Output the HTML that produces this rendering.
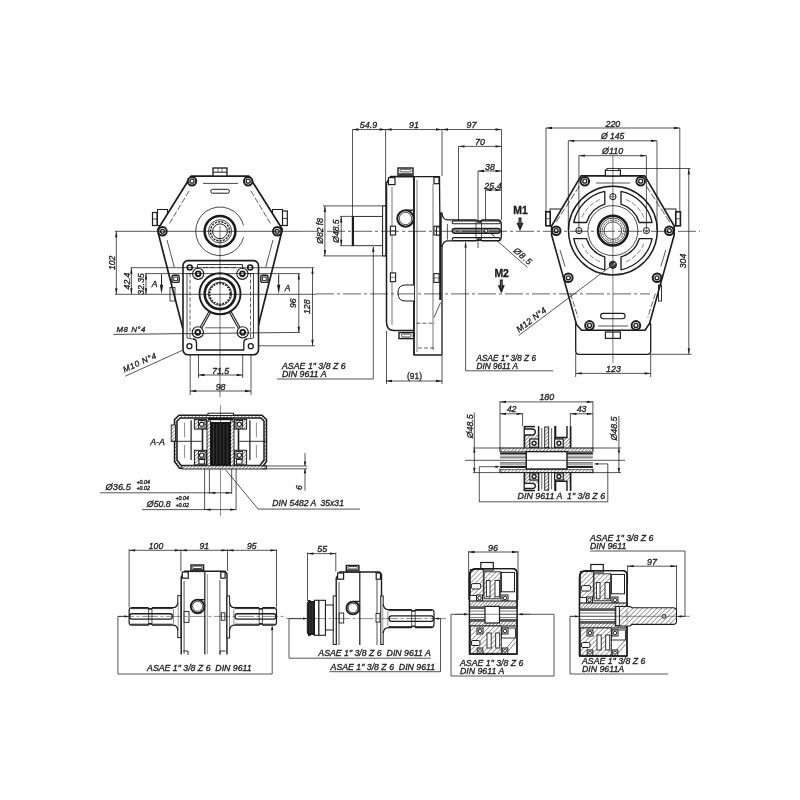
<!DOCTYPE html>
<html><head><meta charset="utf-8"><style>
html,body{margin:0;padding:0;background:#fff;}
svg{display:block;}
text{font-family:"Liberation Sans",sans-serif;fill:#1c1c1c;stroke:#1c1c1c;stroke-width:0.32px;white-space:pre;}
svg{will-change:transform;}
</style></head><body>
<svg width="800" height="800" viewBox="0 0 800 800">
<defs><pattern id="hatch" patternUnits="userSpaceOnUse" width="2.5" height="2.5" patternTransform="rotate(45)"><rect width="2.5" height="2.5" fill="#fff"/><line x1="0" y1="0" x2="0" y2="2.5" stroke="#2a2a2a" stroke-width="1.0"/></pattern><pattern id="hatch2" patternUnits="userSpaceOnUse" width="3.4" height="3.4" patternTransform="rotate(45)"><rect width="3.4" height="3.4" fill="#fff"/><line x1="0" y1="0" x2="0" y2="3.4" stroke="#2a2a2a" stroke-width="0.85"/></pattern></defs>
<rect width="800" height="800" fill="#fff"/>
<rect x="157.5" y="209.5" width="10" height="16" rx="0" fill="none" stroke="#1c1c1c" stroke-width="1.0"/>
<rect x="152.5" y="212.5" width="4.5" height="13" rx="0" fill="none" stroke="#1c1c1c" stroke-width="1.2"/>
<line x1="152.5" y1="219" x2="157" y2="219" stroke="#1c1c1c" stroke-width="0.8"/>
<rect x="272.5" y="209.5" width="10" height="16" rx="0" fill="none" stroke="#1c1c1c" stroke-width="1.0"/>
<rect x="282.5" y="211" width="4.8" height="14.5" rx="0" fill="none" stroke="#1c1c1c" stroke-width="1.2"/>
<line x1="282.5" y1="218.5" x2="287.3" y2="218.5" stroke="#1c1c1c" stroke-width="0.8"/>
<polygon points="191,176.2 249,176.2 282.2,229 281.5,233 257.7,328 182.7,328 158.2,233 158,229" fill="#fff" stroke="#1c1c1c" stroke-width="1.7" stroke-linejoin="round"/>
<rect x="213" y="168" width="14" height="8" rx="0" fill="#fff" stroke="#1c1c1c" stroke-width="1.3"/>
<line x1="213" y1="172.2" x2="227" y2="172.2" stroke="#1c1c1c" stroke-width="1.0"/>
<line x1="218" y1="168" x2="218" y2="172.2" stroke="#1c1c1c" stroke-width="0.6"/>
<line x1="222" y1="168" x2="222" y2="172.2" stroke="#1c1c1c" stroke-width="0.6"/>
<line x1="203" y1="183.4" x2="238" y2="183.4" stroke="#1c1c1c" stroke-width="0.8"/>
<rect x="210.8" y="189.3" width="18.6" height="3.9" rx="1.9" fill="none" stroke="#1c1c1c" stroke-width="1.0"/>
<line x1="189" y1="191" x2="169.5" y2="223.5" stroke="#1c1c1c" stroke-width="0.7" stroke-dasharray="6 2"/>
<line x1="251" y1="191" x2="270.5" y2="223.5" stroke="#1c1c1c" stroke-width="0.7" stroke-dasharray="6 2"/>
<line x1="167" y1="240" x2="174.4" y2="267.5" stroke="#1c1c1c" stroke-width="0.75"/>
<line x1="273" y1="240" x2="265.6" y2="267.5" stroke="#1c1c1c" stroke-width="0.75"/>
<path d="M243.58,237.18 A24.3,24.3 0 1 1 243.58,225.42" fill="none" stroke="#1c1c1c" stroke-width="0.8" stroke-linejoin="round" />
<circle cx="220" cy="231.3" r="15.4" fill="none" stroke="#1c1c1c" stroke-width="2.5"/>
<circle cx="220" cy="231.3" r="11.6" fill="none" stroke="#1c1c1c" stroke-width="0.8"/>
<circle cx="220" cy="231.3" r="9.6" fill="none" stroke="#1c1c1c" stroke-width="1.4" stroke-dasharray="2.2 1.1"/>
<circle cx="220" cy="231.3" r="7.4" fill="none" stroke="#1c1c1c" stroke-width="1.0"/>
<circle cx="192" cy="181.2" r="4.2" fill="#fff" stroke="#1c1c1c" stroke-width="2.0"/>
<circle cx="192" cy="181.2" r="2" fill="none" stroke="#1c1c1c" stroke-width="1.3"/>
<circle cx="248.2" cy="181.2" r="4.2" fill="#fff" stroke="#1c1c1c" stroke-width="2.0"/>
<circle cx="248.2" cy="181.2" r="2" fill="none" stroke="#1c1c1c" stroke-width="1.3"/>
<circle cx="162.5" cy="231.3" r="4.2" fill="#fff" stroke="#1c1c1c" stroke-width="2.0"/>
<circle cx="162.5" cy="231.3" r="2" fill="none" stroke="#1c1c1c" stroke-width="1.3"/>
<circle cx="277.2" cy="231.3" r="4.2" fill="#fff" stroke="#1c1c1c" stroke-width="2.0"/>
<circle cx="277.2" cy="231.3" r="2" fill="none" stroke="#1c1c1c" stroke-width="1.3"/>
<rect x="183" y="260.6" width="75.5" height="94.2" rx="5" fill="#fff" stroke="#1c1c1c" stroke-width="1.6"/>
<line x1="187" y1="273.5" x2="187" y2="338" stroke="#1c1c1c" stroke-width="0.8"/>
<line x1="190" y1="273.5" x2="190" y2="338" stroke="#1c1c1c" stroke-width="0.7" stroke-dasharray="4 2"/>
<line x1="253.5" y1="273.5" x2="253.5" y2="338" stroke="#1c1c1c" stroke-width="0.8"/>
<line x1="250.5" y1="273.5" x2="250.5" y2="338" stroke="#1c1c1c" stroke-width="0.7" stroke-dasharray="4 2"/>
<line x1="187" y1="273.5" x2="193" y2="273.5" stroke="#1c1c1c" stroke-width="0.8"/>
<line x1="247" y1="273.5" x2="253.5" y2="273.5" stroke="#1c1c1c" stroke-width="0.8"/>
<path d="M197.5,269 L197.5,264.5 L242.5,264.5 L242.5,269" fill="none" stroke="#1c1c1c" stroke-width="0.9" stroke-linejoin="round" />
<line x1="203" y1="267.5" x2="237" y2="267.5" stroke="#1c1c1c" stroke-width="0.7" stroke-dasharray="5 2"/>
<circle cx="198.2" cy="273.8" r="5.6" fill="#fff" stroke="#1c1c1c" stroke-width="1.1"/>
<circle cx="198.2" cy="273.8" r="2.4" fill="none" stroke="#1c1c1c" stroke-width="1.9"/>
<circle cx="242.4" cy="273.8" r="5.6" fill="#fff" stroke="#1c1c1c" stroke-width="1.1"/>
<circle cx="242.4" cy="273.8" r="2.4" fill="none" stroke="#1c1c1c" stroke-width="1.9"/>
<circle cx="189.7" cy="267.5" r="2.5" fill="none" stroke="#1c1c1c" stroke-width="1.6"/>
<circle cx="250.2" cy="267.5" r="2.5" fill="none" stroke="#1c1c1c" stroke-width="1.6"/>
<rect x="172" y="275.2" width="7.2" height="7.2" rx="1.5" fill="#fff" stroke="#1c1c1c" stroke-width="1.4"/>
<rect x="173.8" y="277" width="3.6" height="3.6" rx="0" fill="none" stroke="#1c1c1c" stroke-width="0.9"/>
<rect x="260.8" y="275.2" width="7.2" height="7.2" rx="1.5" fill="#fff" stroke="#1c1c1c" stroke-width="1.4"/>
<rect x="262.6" y="277" width="3.6" height="3.6" rx="0" fill="none" stroke="#1c1c1c" stroke-width="0.9"/>
<rect x="170" y="287.5" width="5" height="13.5" rx="0" fill="none" stroke="#1c1c1c" stroke-width="0.8"/>
<circle cx="220" cy="293.8" r="20.5" fill="#fff" stroke="#1c1c1c" stroke-width="1.9"/>
<circle cx="220" cy="293.8" r="15.3" fill="none" stroke="#1c1c1c" stroke-width="2.6"/>
<circle cx="220" cy="293.8" r="11.6" fill="none" stroke="#1c1c1c" stroke-width="0.9"/>
<circle cx="220" cy="293.8" r="10.4" fill="none" stroke="#1c1c1c" stroke-width="1.6" stroke-dasharray="1.8 1.2"/>
<line x1="208.8" y1="311.8" x2="200" y2="327.5" stroke="#1c1c1c" stroke-width="1.1"/>
<line x1="210.4" y1="312.8" x2="201.6" y2="328.5" stroke="#1c1c1c" stroke-width="1.1"/>
<line x1="231.2" y1="311.8" x2="240" y2="327.5" stroke="#1c1c1c" stroke-width="1.1"/>
<line x1="229.6" y1="312.8" x2="238.4" y2="328.5" stroke="#1c1c1c" stroke-width="1.1"/>
<circle cx="197.8" cy="332.3" r="5.6" fill="#fff" stroke="#1c1c1c" stroke-width="1.1"/>
<circle cx="197.8" cy="332.3" r="2.4" fill="none" stroke="#1c1c1c" stroke-width="1.9"/>
<circle cx="242.7" cy="332.3" r="5.6" fill="#fff" stroke="#1c1c1c" stroke-width="1.1"/>
<circle cx="242.7" cy="332.3" r="2.4" fill="none" stroke="#1c1c1c" stroke-width="1.9"/>
<circle cx="189.4" cy="346.2" r="2.5" fill="none" stroke="#1c1c1c" stroke-width="1.3"/>
<circle cx="250.8" cy="346.2" r="2.5" fill="none" stroke="#1c1c1c" stroke-width="1.3"/>
<line x1="205" y1="327.8" x2="235" y2="327.8" stroke="#1c1c1c" stroke-width="0.7"/>
<path d="M193,339 Q196.5,339 196.5,343 L196.5,350 L243.8,350 L243.8,343 Q243.8,339 247.5,339" fill="none" stroke="#1c1c1c" stroke-width="1.3" stroke-linejoin="round" />
<line x1="187" y1="338" x2="193" y2="339" stroke="#1c1c1c" stroke-width="0.8"/>
<line x1="253.5" y1="338" x2="247.5" y2="339" stroke="#1c1c1c" stroke-width="0.8"/>
<line x1="115" y1="294.3" x2="316" y2="294.3" stroke="#1c1c1c" stroke-width="0.75"/>
<line x1="130.5" y1="267.7" x2="314" y2="267.7" stroke="#1c1c1c" stroke-width="0.75"/>
<line x1="145" y1="273.6" x2="300" y2="273.6" stroke="#1c1c1c" stroke-width="0.75"/>
<line x1="113.5" y1="334.4" x2="300" y2="332.4" stroke="#1c1c1c" stroke-width="0.8"/>
<line x1="258" y1="345.8" x2="315" y2="345.8" stroke="#1c1c1c" stroke-width="0.75"/>
<line x1="116.3" y1="231.3" x2="116.3" y2="294.3" stroke="#1c1c1c" stroke-width="0.75"/>
<polygon points="116.3,231.3 117.45,237.3 115.15,237.3" fill="#1c1c1c"/>
<polygon points="116.3,294.3 115.15,288.3 117.45,288.3" fill="#1c1c1c"/>
<text x="115.1" y="262.8" font-size="8.6" text-anchor="middle" font-style="italic" font-weight="normal" transform="rotate(-90 115.1 262.8)">102</text>
<line x1="131.4" y1="267.7" x2="131.4" y2="294.3" stroke="#1c1c1c" stroke-width="0.75"/>
<polygon points="131.4,267.7 132.55,273.7 130.25,273.7" fill="#1c1c1c"/>
<polygon points="131.4,294.3 130.25,288.3 132.55,288.3" fill="#1c1c1c"/>
<text x="129.8" y="281" font-size="8.6" text-anchor="middle" font-style="italic" font-weight="normal" transform="rotate(-90 129.8 281)">42.4</text>
<line x1="146" y1="273.6" x2="146" y2="294.3" stroke="#1c1c1c" stroke-width="0.75"/>
<polygon points="146,273.6 147.15,279.6 144.85,279.6" fill="#1c1c1c"/>
<polygon points="146,294.3 144.85,288.3 147.15,288.3" fill="#1c1c1c"/>
<text x="144" y="283.95" font-size="8.6" text-anchor="middle" font-style="italic" font-weight="normal" transform="rotate(-90 144 283.95)">32.35</text>
<line x1="161.5" y1="274.3" x2="161.5" y2="285" stroke="#1c1c1c" stroke-width="1.0"/>
<polygon points="161.5,294.3 159.9,284.8 163.1,284.8" fill="#1c1c1c"/>
<text x="154.5" y="287.3" font-size="8.5" text-anchor="middle" font-style="italic" font-weight="normal">A</text>
<line x1="278.7" y1="274.3" x2="278.7" y2="285" stroke="#1c1c1c" stroke-width="1.0"/>
<polygon points="278.7,294.3 277.1,284.8 280.3,284.8" fill="#1c1c1c"/>
<text x="287.5" y="291" font-size="8.5" text-anchor="middle" font-style="italic" font-weight="normal">A</text>
<line x1="298.8" y1="273.6" x2="298.8" y2="332.8" stroke="#1c1c1c" stroke-width="0.75"/>
<polygon points="298.8,273.6 299.95,279.6 297.65,279.6" fill="#1c1c1c"/>
<polygon points="298.8,332.8 297.65,326.8 299.95,326.8" fill="#1c1c1c"/>
<text x="296" y="303.2" font-size="8.6" text-anchor="middle" font-style="italic" font-weight="normal" transform="rotate(-90 296 303.2)">96</text>
<line x1="312.5" y1="267.7" x2="312.5" y2="345.8" stroke="#1c1c1c" stroke-width="0.75"/>
<polygon points="312.5,267.7 313.65,273.7 311.35,273.7" fill="#1c1c1c"/>
<polygon points="312.5,345.8 311.35,339.8 313.65,339.8" fill="#1c1c1c"/>
<text x="309.8" y="306.75" font-size="8.6" text-anchor="middle" font-style="italic" font-weight="normal" transform="rotate(-90 309.8 306.75)">128</text>
<line x1="190.2" y1="354.8" x2="190.2" y2="395" stroke="#1c1c1c" stroke-width="0.75"/>
<line x1="198.5" y1="354.8" x2="198.5" y2="378" stroke="#1c1c1c" stroke-width="0.75"/>
<line x1="242.7" y1="354.8" x2="242.7" y2="378" stroke="#1c1c1c" stroke-width="0.75"/>
<line x1="251" y1="354.8" x2="251" y2="395" stroke="#1c1c1c" stroke-width="0.75"/>
<line x1="198.5" y1="375" x2="242.7" y2="375" stroke="#1c1c1c" stroke-width="0.75"/>
<polygon points="198.5,375 204.5,373.85 204.5,376.15" fill="#1c1c1c"/>
<polygon points="242.7,375 236.7,376.15 236.7,373.85" fill="#1c1c1c"/>
<text x="220.6" y="373.5" font-size="8.9" text-anchor="middle" font-style="italic" font-weight="normal">71.5</text>
<line x1="190.2" y1="391" x2="251" y2="391" stroke="#1c1c1c" stroke-width="0.75"/>
<polygon points="190.2,391 196.2,389.85 196.2,392.15" fill="#1c1c1c"/>
<polygon points="251,391 245,392.15 245,389.85" fill="#1c1c1c"/>
<text x="220.6" y="389.5" font-size="8.9" text-anchor="middle" font-style="italic" font-weight="normal">98</text>
<text x="116.5" y="331.5" font-size="7.9" text-anchor="start" font-style="italic" font-weight="normal" letter-spacing="0.5">M8 N°4</text>
<line x1="182.5" y1="350.3" x2="125.2" y2="376.2" stroke="#1c1c1c" stroke-width="0.75"/>
<text x="124.5" y="372.5" font-size="8.2" text-anchor="start" font-style="italic" font-weight="normal" letter-spacing="0.6" transform="rotate(-24.5 124.5 372.5)">M10 N°4</text>
<line x1="352.5" y1="129.5" x2="352.5" y2="245.7" stroke="#1c1c1c" stroke-width="0.75"/>
<line x1="385.6" y1="129.5" x2="385.6" y2="205.9" stroke="#1c1c1c" stroke-width="0.75"/>
<line x1="442" y1="129.5" x2="442" y2="176" stroke="#1c1c1c" stroke-width="0.75"/>
<line x1="501.5" y1="129.5" x2="501.5" y2="220" stroke="#1c1c1c" stroke-width="0.75"/>
<line x1="352.5" y1="129.5" x2="501.5" y2="129.5" stroke="#1c1c1c" stroke-width="0.75"/>
<polygon points="352.5,129.5 358.5,128.35 358.5,130.65" fill="#1c1c1c"/>
<polygon points="385.6,129.5 391.6,128.35 391.6,130.65" fill="#1c1c1c"/>
<polygon points="442,129.5 448,128.35 448,130.65" fill="#1c1c1c"/>
<polygon points="385.6,129.5 379.6,130.65 379.6,128.35" fill="#1c1c1c"/>
<polygon points="442,129.5 436,130.65 436,128.35" fill="#1c1c1c"/>
<polygon points="501.5,129.5 495.5,130.65 495.5,128.35" fill="#1c1c1c"/>
<text x="368.5" y="128" font-size="8.9" text-anchor="middle" font-style="italic" font-weight="normal">54.9</text>
<text x="414" y="128" font-size="8.9" text-anchor="middle" font-style="italic" font-weight="normal">91</text>
<text x="471.5" y="128" font-size="8.9" text-anchor="middle" font-style="italic" font-weight="normal">97</text>
<line x1="458.5" y1="146.4" x2="458.5" y2="220" stroke="#1c1c1c" stroke-width="0.75"/>
<line x1="478" y1="171" x2="478" y2="248" stroke="#1c1c1c" stroke-width="0.75"/>
<line x1="485.5" y1="190" x2="485.5" y2="220" stroke="#1c1c1c" stroke-width="0.75"/>
<line x1="458.5" y1="146.4" x2="501.5" y2="146.4" stroke="#1c1c1c" stroke-width="0.75"/>
<polygon points="458.5,146.4 464.5,145.25 464.5,147.55" fill="#1c1c1c"/>
<polygon points="501.5,146.4 495.5,147.55 495.5,145.25" fill="#1c1c1c"/>
<text x="480" y="144.9" font-size="8.9" text-anchor="middle" font-style="italic" font-weight="normal">70</text>
<line x1="478" y1="171" x2="501.5" y2="171" stroke="#1c1c1c" stroke-width="0.75"/>
<polygon points="478,171 484,169.85 484,172.15" fill="#1c1c1c"/>
<polygon points="501.5,171 495.5,172.15 495.5,169.85" fill="#1c1c1c"/>
<text x="490" y="169.5" font-size="8.9" text-anchor="middle" font-style="italic" font-weight="normal">38</text>
<line x1="485.5" y1="190" x2="501.5" y2="190" stroke="#1c1c1c" stroke-width="0.75"/>
<polygon points="485.5,190 491.5,188.85 491.5,191.15" fill="#1c1c1c"/>
<polygon points="501.5,190 495.5,191.15 495.5,188.85" fill="#1c1c1c"/>
<text x="493" y="189.3" font-size="8.9" text-anchor="middle" font-style="italic" font-weight="normal">25.4</text>
<line x1="323" y1="205.9" x2="386" y2="205.9" stroke="#1c1c1c" stroke-width="0.75"/>
<line x1="323" y1="255.9" x2="386" y2="255.9" stroke="#1c1c1c" stroke-width="0.75"/>
<line x1="324.9" y1="205.9" x2="324.9" y2="255.9" stroke="#1c1c1c" stroke-width="0.75"/>
<polygon points="324.9,205.9 326.05,211.9 323.75,211.9" fill="#1c1c1c"/>
<polygon points="324.9,255.9 323.75,249.9 326.05,249.9" fill="#1c1c1c"/>
<text x="323.3" y="230.9" font-size="8.6" text-anchor="middle" font-style="italic" font-weight="normal" transform="rotate(-90 323.3 230.9)">Ø82 f8</text>
<line x1="340" y1="216.4" x2="353" y2="216.4" stroke="#1c1c1c" stroke-width="0.75"/>
<line x1="340" y1="245.7" x2="353" y2="245.7" stroke="#1c1c1c" stroke-width="0.75"/>
<line x1="341.2" y1="216.4" x2="341.2" y2="245.7" stroke="#1c1c1c" stroke-width="0.75"/>
<polygon points="341.2,216.4 342.35,222.4 340.05,222.4" fill="#1c1c1c"/>
<polygon points="341.2,245.7 340.05,239.7 342.35,239.7" fill="#1c1c1c"/>
<text x="339.1" y="231.05" font-size="8.6" text-anchor="middle" font-style="italic" font-weight="normal" transform="rotate(-90 339.1 231.05)">Ø48.5</text>
<rect x="352.5" y="216.4" width="31" height="29.3" rx="0" fill="#fff" stroke="#1c1c1c" stroke-width="0.9"/>
<line x1="352.9" y1="216.4" x2="352.9" y2="245.7" stroke="#1c1c1c" stroke-width="2.2"/>
<rect x="382.6" y="205.9" width="3.2" height="50" rx="0" fill="#fff" stroke="#1c1c1c" stroke-width="1.0"/>
<path d="M386.5,322 L386.5,183 L390.5,176.6 L414,176.6 L414,330.6 L394,330.6 Q386.5,330.6 386.5,322 Z" fill="#fff" stroke="#1c1c1c" stroke-width="1.5" stroke-linejoin="round" />
<rect x="388.5" y="177.6" width="6.5" height="7" rx="0" fill="#fff" stroke="#1c1c1c" stroke-width="1.2"/>
<line x1="392" y1="187" x2="392" y2="325" stroke="#1c1c1c" stroke-width="0.6"/>
<path d="M414,176.6 L439.5,176.6 L439.8,213 L442,213 L442,355 L414,355 Z" fill="#fff" stroke="#1c1c1c" stroke-width="1.3" stroke-linejoin="round" />
<line x1="440.2" y1="213" x2="440.2" y2="300" stroke="#1c1c1c" stroke-width="2.0"/>
<line x1="433" y1="184" x2="433" y2="350" stroke="#1c1c1c" stroke-width="0.6"/>
<line x1="417" y1="180" x2="417" y2="352" stroke="#1c1c1c" stroke-width="0.6"/>
<line x1="414" y1="176.6" x2="414" y2="355" stroke="#1c1c1c" stroke-width="1.5"/>
<rect x="434" y="177.2" width="5" height="6.5" rx="0" fill="#fff" stroke="#1c1c1c" stroke-width="1.2"/>
<rect x="398" y="168" width="15" height="8.6" rx="0" fill="#fff" stroke="#1c1c1c" stroke-width="1.4"/>
<rect x="400" y="169.3" width="11" height="2.6" rx="1.2" fill="none" stroke="#1c1c1c" stroke-width="0.8"/>
<rect x="398.5" y="173.2" width="14" height="3" fill="#3a3a3a"/>
<line x1="405.5" y1="210.2" x2="413.5" y2="210.2" stroke="#1c1c1c" stroke-width="1.4"/>
<circle cx="405.5" cy="218.5" r="8.2" fill="#fff" stroke="#1c1c1c" stroke-width="2.0"/>
<circle cx="405.5" cy="218.5" r="6.2" fill="none" stroke="#1c1c1c" stroke-width="0.8"/>
<rect x="390.4" y="226.2" width="5.2" height="8.8" rx="0" fill="#fff" stroke="#1c1c1c" stroke-width="1.1"/>
<line x1="390.4" y1="230.6" x2="395.6" y2="230.6" stroke="#1c1c1c" stroke-width="0.6"/>
<rect x="390.4" y="272.9" width="5.2" height="8.8" rx="0" fill="#fff" stroke="#1c1c1c" stroke-width="1.1"/>
<line x1="390.4" y1="277.3" x2="395.6" y2="277.3" stroke="#1c1c1c" stroke-width="0.6"/>
<rect x="433.9" y="226.2" width="5.2" height="8.8" rx="0" fill="#fff" stroke="#1c1c1c" stroke-width="1.1"/>
<line x1="433.9" y1="230.6" x2="439.1" y2="230.6" stroke="#1c1c1c" stroke-width="0.6"/>
<rect x="433.9" y="273.6" width="5.2" height="8.8" rx="0" fill="#fff" stroke="#1c1c1c" stroke-width="1.1"/>
<line x1="433.9" y1="278" x2="439.1" y2="278" stroke="#1c1c1c" stroke-width="0.6"/>
<path d="M414,285 L405,285 Q398,285 398,293 Q398,301 405,301 L414,301" fill="#fff" stroke="#1c1c1c" stroke-width="1.0" stroke-linejoin="round" />
<rect x="399" y="332.6" width="14.5" height="6" rx="0" fill="#fff" stroke="#1c1c1c" stroke-width="1.4"/>
<rect x="401.5" y="334" width="9.5" height="3" rx="1.2" fill="none" stroke="#1c1c1c" stroke-width="0.8"/>
<line x1="418" y1="348" x2="434" y2="348" stroke="#1c1c1c" stroke-width="0.7" stroke-dasharray="4 2"/>
<line x1="416.5" y1="323.2" x2="435" y2="323.2" stroke="#1c1c1c" stroke-width="0.7" stroke-dasharray="4 2"/>
<line x1="434" y1="317.5" x2="440.6" y2="302.5" stroke="#1c1c1c" stroke-width="0.75"/>
<path d="M442,214 Q443,219.5 447,219.9 L476,219.9 L478,222 L480.5,222 L482,219.9 L498,219.9 Q501.3,220.5 501.3,224 L501.3,237 Q501.3,240.6 498,240.9 L482,240.9 L480.5,239 L478,239 L476,240.9 L447,240.9 Q443,241.5 442,247" fill="#fff" stroke="#1c1c1c" stroke-width="1.3" stroke-linejoin="round" />
<line x1="447.4" y1="223.8" x2="447.4" y2="239.6" stroke="#1c1c1c" stroke-width="0.75"/>
<rect x="452.2" y="220.9" width="48" height="2.9" rx="1.4" fill="none" stroke="#1c1c1c" stroke-width="1.1"/>
<rect x="452.2" y="228.3" width="48" height="5" rx="2.5" fill="#888" stroke="#1c1c1c" stroke-width="1.3"/>
<rect x="452.2" y="237.6" width="48" height="2.9" rx="1.4" fill="none" stroke="#1c1c1c" stroke-width="1.1"/>
<line x1="476" y1="222" x2="476" y2="239" stroke="#1c1c1c" stroke-width="0.75"/>
<line x1="481.5" y1="222" x2="481.5" y2="239" stroke="#1c1c1c" stroke-width="0.75"/>
<circle cx="485.9" cy="230.8" r="1.8" fill="#fff" stroke="#1c1c1c" stroke-width="0.9"/>
<line x1="491" y1="233.5" x2="494.5" y2="236.5" stroke="#1c1c1c" stroke-width="1.0"/>
<rect x="436.5" y="227" width="3.2" height="8" rx="0" fill="#fff" stroke="#1c1c1c" stroke-width="1.0"/>
<text x="520.5" y="214" font-size="10.4" text-anchor="middle" font-weight="bold">M1</text>
<line x1="520" y1="217.5" x2="520" y2="225" stroke="#1c1c1c" stroke-width="3.0"/>
<polygon points="520,231 516.5,222.8 523.5,222.8" fill="#1c1c1c"/>
<line x1="520" y1="218.7" x2="520" y2="226" stroke="#bbb" stroke-width="0.5"/>
<text x="501.7" y="277" font-size="10.4" text-anchor="middle" font-weight="bold">M2</text>
<line x1="501.3" y1="279.5" x2="501.3" y2="287.5" stroke="#1c1c1c" stroke-width="3.0"/>
<polygon points="501.3,293.5 497.8,285.3 504.8,285.3" fill="#1c1c1c"/>
<line x1="501.3" y1="280.7" x2="501.3" y2="288.5" stroke="#bbb" stroke-width="0.5"/>
<line x1="496.8" y1="240.5" x2="527.5" y2="267.5" stroke="#1c1c1c" stroke-width="0.75"/>
<text x="521" y="258.5" font-size="8.7" text-anchor="middle" font-style="italic" font-weight="normal" letter-spacing="0.6" transform="rotate(41 521 258.5)">Ø8.5</text>
<line x1="373.3" y1="247" x2="373.3" y2="379" stroke="#1c1c1c" stroke-width="0.75"/>
<polygon points="373.3,246 374.45,252 372.15,252" fill="#1c1c1c"/>
<line x1="277" y1="379" x2="373.3" y2="379" stroke="#1c1c1c" stroke-width="0.75"/>
<text x="282" y="369" font-size="8.8" text-anchor="start" font-style="italic" font-weight="normal">ASAE 1" 3/8 Z 6</text>
<text x="282" y="377.3" font-size="8.8" text-anchor="start" font-style="italic" font-weight="normal">DIN 9611 A</text>
<line x1="465.6" y1="242.5" x2="465.6" y2="370.8" stroke="#1c1c1c" stroke-width="0.75"/>
<polygon points="465.6,241.5 466.75,247.5 464.45,247.5" fill="#1c1c1c"/>
<line x1="465.6" y1="370.8" x2="553" y2="370.8" stroke="#1c1c1c" stroke-width="0.75"/>
<text x="476.6" y="360.7" font-size="8.2" text-anchor="start" font-style="italic" font-weight="normal">ASAE 1" 3/8 Z 6</text>
<text x="476.6" y="369" font-size="8.2" text-anchor="start" font-style="italic" font-weight="normal">DIN 9611 A</text>
<line x1="386.5" y1="331" x2="386.5" y2="384" stroke="#1c1c1c" stroke-width="0.75"/>
<line x1="442" y1="356" x2="442" y2="384" stroke="#1c1c1c" stroke-width="0.75"/>
<line x1="386" y1="381" x2="442" y2="381" stroke="#1c1c1c" stroke-width="0.75"/>
<polygon points="386,381 392,379.85 392,382.15" fill="#1c1c1c"/>
<polygon points="442,381 436,382.15 436,379.85" fill="#1c1c1c"/>
<text x="414.5" y="379.2" font-size="8.4" text-anchor="middle" font-weight="normal">(91)</text>
<line x1="546" y1="128" x2="546" y2="212" stroke="#1c1c1c" stroke-width="0.75"/>
<line x1="679.8" y1="128" x2="679.8" y2="212" stroke="#1c1c1c" stroke-width="0.75"/>
<line x1="546" y1="128" x2="679.8" y2="128" stroke="#1c1c1c" stroke-width="0.75"/>
<polygon points="546,128 552,126.85 552,129.15" fill="#1c1c1c"/>
<polygon points="679.8,128 673.8,129.15 673.8,126.85" fill="#1c1c1c"/>
<text x="612.9" y="126.5" font-size="8.9" text-anchor="middle" font-style="italic" font-weight="normal">220</text>
<line x1="568.3" y1="140.8" x2="657" y2="140.8" stroke="#1c1c1c" stroke-width="0.75"/>
<polygon points="568.3,140.8 574.3,139.65 574.3,141.95" fill="#1c1c1c"/>
<polygon points="657,140.8 651,141.95 651,139.65" fill="#1c1c1c"/>
<text x="612.65" y="139.3" font-size="8.6" text-anchor="middle" font-style="italic" font-weight="normal">Ø 145</text>
<line x1="578.9" y1="155.7" x2="646.4" y2="155.7" stroke="#1c1c1c" stroke-width="0.75"/>
<polygon points="578.9,155.7 584.9,154.55 584.9,156.85" fill="#1c1c1c"/>
<polygon points="646.4,155.7 640.4,156.85 640.4,154.55" fill="#1c1c1c"/>
<text x="612.65" y="154.2" font-size="8.9" text-anchor="middle" font-style="italic" font-weight="normal">Ø110</text>
<line x1="619" y1="168.5" x2="690.5" y2="168.5" stroke="#1c1c1c" stroke-width="0.75"/>
<line x1="651" y1="354.3" x2="691.5" y2="354.3" stroke="#1c1c1c" stroke-width="0.75"/>
<line x1="688.8" y1="168.5" x2="688.8" y2="354.3" stroke="#1c1c1c" stroke-width="0.75"/>
<polygon points="688.8,168.5 689.95,174.5 687.65,174.5" fill="#1c1c1c"/>
<polygon points="688.8,354.3 687.65,348.3 689.95,348.3" fill="#1c1c1c"/>
<text x="686" y="261" font-size="8.6" text-anchor="middle" font-style="italic" font-weight="normal" transform="rotate(-90 686 261)">304</text>
<rect x="550" y="209" width="14" height="17" rx="0" fill="none" stroke="#1c1c1c" stroke-width="1.0"/>
<rect x="662" y="209" width="14" height="17" rx="0" fill="none" stroke="#1c1c1c" stroke-width="1.0"/>
<rect x="545.8" y="211.8" width="4.4" height="14" rx="0" fill="#fff" stroke="#1c1c1c" stroke-width="1.6"/>
<line x1="545.8" y1="218.7" x2="550.2" y2="218.7" stroke="#1c1c1c" stroke-width="0.7"/>
<rect x="675.8" y="211.8" width="4.6" height="14" rx="0" fill="#fff" stroke="#1c1c1c" stroke-width="1.6"/>
<line x1="675.8" y1="218.7" x2="680.4" y2="218.7" stroke="#1c1c1c" stroke-width="0.7"/>
<rect x="575.7" y="322" width="75" height="32.3" rx="3" fill="#fff" stroke="#1c1c1c" stroke-width="1.3"/>
<polygon points="581,175.9 644.8,175.9 674.2,226 674.2,235 649.5,323.5 645,330.2 581.5,330.2 576.5,324.5 551.6,235 551.6,226" fill="#fff" stroke="#1c1c1c" stroke-width="1.6" stroke-linejoin="round"/>
<line x1="579.5" y1="186" x2="555.5" y2="223" stroke="#1c1c1c" stroke-width="0.7" stroke-dasharray="7 2"/>
<line x1="646.3" y1="186" x2="670.3" y2="223" stroke="#1c1c1c" stroke-width="0.7" stroke-dasharray="7 2"/>
<line x1="560" y1="250" x2="565" y2="266.5" stroke="#1c1c1c" stroke-width="0.75"/>
<line x1="570.5" y1="293.5" x2="578" y2="317.5" stroke="#1c1c1c" stroke-width="0.7" stroke-dasharray="6 2"/>
<line x1="665.8" y1="250" x2="660.8" y2="266.5" stroke="#1c1c1c" stroke-width="0.75"/>
<line x1="655.3" y1="293.5" x2="647.8" y2="317.5" stroke="#1c1c1c" stroke-width="0.7" stroke-dasharray="6 2"/>
<line x1="596" y1="183" x2="630" y2="183" stroke="#1c1c1c" stroke-width="0.75"/>
<line x1="598" y1="326" x2="628" y2="326" stroke="#1c1c1c" stroke-width="0.75"/>
<rect x="658.5" y="285" width="3" height="16" rx="0" fill="none" stroke="#1c1c1c" stroke-width="0.9"/>
<rect x="605.4" y="170" width="15" height="5.9" rx="0" fill="#fff" stroke="#1c1c1c" stroke-width="1.2"/>
<rect x="607" y="168.4" width="11.8" height="2.2" rx="0" fill="#fff" stroke="#1c1c1c" stroke-width="0.9"/>
<rect x="605.4" y="332" width="15" height="6.4" rx="0" fill="#fff" stroke="#1c1c1c" stroke-width="1.2"/>
<line x1="612.9" y1="332" x2="612.9" y2="338.4" stroke="#1c1c1c" stroke-width="0.7"/>
<rect x="600.6" y="313.4" width="24.5" height="5.3" rx="2.6" fill="none" stroke="#1c1c1c" stroke-width="1.1"/>
<circle cx="612.9" cy="230.6" r="44.4" fill="#fff" stroke="#1c1c1c" stroke-width="1.5"/>
<path d="M604.8,191.43 A40.0,40.0 0 0 0 573.73,222.5 L586.52,222.5 A27.6,27.6 0 0 1 604.8,204.22 Z" fill="#fff" stroke="#1c1c1c" stroke-width="1.3" stroke-linejoin="round" />
<path d="M599.9,199.51 A33.7,33.7 0 0 0 581.81,217.6" fill="none" stroke="#1c1c1c" stroke-width="0.55" stroke-linejoin="round" stroke-dasharray="5 2"/>
<path d="M604.8,269.77 A40.0,40.0 0 0 1 573.73,238.7 L586.52,238.7 A27.6,27.6 0 0 0 604.8,256.98 Z" fill="#fff" stroke="#1c1c1c" stroke-width="1.3" stroke-linejoin="round" />
<path d="M599.9,261.69 A33.7,33.7 0 0 1 581.81,243.6" fill="none" stroke="#1c1c1c" stroke-width="0.55" stroke-linejoin="round" stroke-dasharray="5 2"/>
<path d="M621,191.43 A40.0,40.0 0 0 1 652.07,222.5 L639.28,222.5 A27.6,27.6 0 0 0 621,204.22 Z" fill="#fff" stroke="#1c1c1c" stroke-width="1.3" stroke-linejoin="round" />
<path d="M625.9,199.51 A33.7,33.7 0 0 1 643.99,217.6" fill="none" stroke="#1c1c1c" stroke-width="0.55" stroke-linejoin="round" stroke-dasharray="5 2"/>
<path d="M621,269.77 A40.0,40.0 0 0 0 652.07,238.7 L639.28,238.7 A27.6,27.6 0 0 1 621,256.98 Z" fill="#fff" stroke="#1c1c1c" stroke-width="1.3" stroke-linejoin="round" />
<path d="M625.9,261.69 A33.7,33.7 0 0 0 643.99,243.6" fill="none" stroke="#1c1c1c" stroke-width="0.55" stroke-linejoin="round" stroke-dasharray="5 2"/>
<circle cx="612.9" cy="230.6" r="25" fill="none" stroke="#1c1c1c" stroke-width="0.8"/>
<circle cx="612.9" cy="230.6" r="14.9" fill="none" stroke="#1c1c1c" stroke-width="2.6"/>
<circle cx="612.9" cy="230.6" r="12.6" fill="none" stroke="#1c1c1c" stroke-width="0.8"/>
<circle cx="612.9" cy="230.6" r="10.6" fill="none" stroke="#1c1c1c" stroke-width="0.9" stroke-dasharray="1.6 1"/>
<circle cx="612.9" cy="230.6" r="8.8" fill="none" stroke="#1c1c1c" stroke-width="0.8"/>
<circle cx="612.9" cy="196.7" r="3.1" fill="#fff" stroke="#1c1c1c" stroke-width="1.0"/>
<line x1="609.8" y1="196.7" x2="616" y2="196.7" stroke="#1c1c1c" stroke-width="0.5"/>
<line x1="612.9" y1="193.6" x2="612.9" y2="199.8" stroke="#1c1c1c" stroke-width="0.5"/>
<circle cx="578.9" cy="230.6" r="3.1" fill="#fff" stroke="#1c1c1c" stroke-width="1.0"/>
<line x1="575.8" y1="230.6" x2="582" y2="230.6" stroke="#1c1c1c" stroke-width="0.5"/>
<line x1="578.9" y1="227.5" x2="578.9" y2="233.7" stroke="#1c1c1c" stroke-width="0.5"/>
<circle cx="646.4" cy="230.6" r="3.1" fill="#fff" stroke="#1c1c1c" stroke-width="1.0"/>
<line x1="643.3" y1="230.6" x2="649.5" y2="230.6" stroke="#1c1c1c" stroke-width="0.5"/>
<line x1="646.4" y1="227.5" x2="646.4" y2="233.7" stroke="#1c1c1c" stroke-width="0.5"/>
<circle cx="612.9" cy="264.8" r="3.6" fill="#444" stroke="#1c1c1c" stroke-width="1.0"/>
<line x1="610.4" y1="266.5" x2="615.4" y2="263" stroke="#fff" stroke-width="0.8"/>
<circle cx="584.8" cy="181.2" r="4.3" fill="#fff" stroke="#1c1c1c" stroke-width="2.0"/>
<circle cx="584.8" cy="181.2" r="2" fill="none" stroke="#1c1c1c" stroke-width="1.3"/>
<circle cx="640.7" cy="181.2" r="4.3" fill="#fff" stroke="#1c1c1c" stroke-width="2.0"/>
<circle cx="640.7" cy="181.2" r="2" fill="none" stroke="#1c1c1c" stroke-width="1.3"/>
<circle cx="556.2" cy="230.7" r="4.3" fill="#fff" stroke="#1c1c1c" stroke-width="2.0"/>
<circle cx="556.2" cy="230.7" r="2" fill="none" stroke="#1c1c1c" stroke-width="1.3"/>
<circle cx="669.3" cy="230.7" r="4.3" fill="#fff" stroke="#1c1c1c" stroke-width="2.0"/>
<circle cx="669.3" cy="230.7" r="2" fill="none" stroke="#1c1c1c" stroke-width="1.3"/>
<circle cx="568.3" cy="277.8" r="4.3" fill="#fff" stroke="#1c1c1c" stroke-width="2.0"/>
<circle cx="568.3" cy="277.8" r="2" fill="none" stroke="#1c1c1c" stroke-width="1.3"/>
<circle cx="657" cy="277.8" r="4.3" fill="#fff" stroke="#1c1c1c" stroke-width="2.0"/>
<circle cx="657" cy="277.8" r="2" fill="none" stroke="#1c1c1c" stroke-width="1.3"/>
<circle cx="589.5" cy="325.4" r="4.3" fill="#fff" stroke="#1c1c1c" stroke-width="2.0"/>
<circle cx="589.5" cy="325.4" r="2" fill="none" stroke="#1c1c1c" stroke-width="1.3"/>
<circle cx="635.9" cy="325.4" r="4.3" fill="#fff" stroke="#1c1c1c" stroke-width="2.0"/>
<circle cx="635.9" cy="325.4" r="2" fill="none" stroke="#1c1c1c" stroke-width="1.3"/>
<line x1="575.7" y1="354" x2="575.7" y2="377" stroke="#1c1c1c" stroke-width="0.75"/>
<line x1="650.7" y1="354" x2="650.7" y2="377" stroke="#1c1c1c" stroke-width="0.75"/>
<line x1="575.7" y1="373.4" x2="650.7" y2="373.4" stroke="#1c1c1c" stroke-width="0.75"/>
<polygon points="575.7,373.4 581.7,372.25 581.7,374.55" fill="#1c1c1c"/>
<polygon points="650.7,373.4 644.7,374.55 644.7,372.25" fill="#1c1c1c"/>
<text x="613.5" y="371.9" font-size="8.9" text-anchor="middle" font-style="italic" font-weight="normal">123</text>
<line x1="518.7" y1="335.5" x2="612.5" y2="265" stroke="#1c1c1c" stroke-width="0.75"/>
<text x="519" y="332.7" font-size="8.7" text-anchor="start" font-style="italic" font-weight="normal" letter-spacing="0.2" transform="rotate(-36.9 519 332.7)">M12 N°4</text>
<rect x="174.5" y="415.3" width="92" height="53" fill="#fff"/>
<path d="M179,415.3 L262,415.3 L266.5,419.5 L266.5,461.5 L261.5,468.3 L179.5,468.3 L174.5,461.5 L174.5,419.5 Z M180.3,418 L260.7,418 L264,421 L264,460 L259.8,465.6 L181.2,465.6 L177,460 L177,421 Z" fill="url(#hatch)" fill-rule="evenodd" stroke="#1c1c1c" stroke-width="1.5"/>
<rect x="208" y="413.2" width="25.5" height="2.3" rx="0" fill="#fff" stroke="#1c1c1c" stroke-width="1.0"/>
<line x1="220.5" y1="405" x2="220.5" y2="470" stroke="#1c1c1c" stroke-width="0.5"/>
<rect x="171.2" y="425" width="4.3" height="16.3" fill="url(#hatch)" stroke="#1c1c1c" stroke-width="0.9"/>
<line x1="171" y1="441.3" x2="201.7" y2="441.3" stroke="#1c1c1c" stroke-width="0.9"/>
<line x1="239.3" y1="441.3" x2="266.5" y2="441.3" stroke="#1c1c1c" stroke-width="0.9"/>
<line x1="256.4" y1="422.6" x2="256.4" y2="437.3" stroke="#1c1c1c" stroke-width="0.5"/>
<line x1="256.4" y1="445" x2="256.4" y2="458" stroke="#1c1c1c" stroke-width="0.5"/>
<line x1="249.9" y1="420.2" x2="249.9" y2="460" stroke="#1c1c1c" stroke-width="1.2"/>
<rect x="234.4" y="419.4" width="12.2" height="9.7" fill="url(#hatch)" stroke="#1c1c1c" stroke-width="1.0"/>
<rect x="236" y="420.5" width="6.6" height="7.5" rx="0" fill="#fff" stroke="#1c1c1c" stroke-width="0.9"/>
<circle cx="239.3" cy="424.3" r="2.2" fill="none" stroke="#1c1c1c" stroke-width="1.1"/>
<rect x="234.4" y="450.3" width="12.2" height="14.6" fill="url(#hatch)" stroke="#1c1c1c" stroke-width="1.0"/>
<rect x="236" y="451.5" width="6.6" height="7.2" rx="0" fill="#fff" stroke="#1c1c1c" stroke-width="0.9"/>
<circle cx="239.3" cy="455.2" r="2.2" fill="none" stroke="#1c1c1c" stroke-width="1.1"/>
<rect x="236.6" y="459.5" width="5.4" height="4.5" rx="0" fill="#fff" stroke="#1c1c1c" stroke-width="1.0"/>
<line x1="238.5" y1="429" x2="238.5" y2="450.3" stroke="#1c1c1c" stroke-width="1.6"/>
<rect x="230.4" y="421" width="3.6" height="45.5" fill="url(#hatch)" stroke="#1c1c1c" stroke-width="0.9"/>
<line x1="184.6" y1="422.6" x2="184.6" y2="437.3" stroke="#1c1c1c" stroke-width="0.5"/>
<line x1="184.6" y1="445" x2="184.6" y2="458" stroke="#1c1c1c" stroke-width="0.5"/>
<line x1="191.1" y1="420.2" x2="191.1" y2="460" stroke="#1c1c1c" stroke-width="1.2"/>
<rect x="194.4" y="419.4" width="12.2" height="9.7" fill="url(#hatch)" stroke="#1c1c1c" stroke-width="1.0"/>
<rect x="198.4" y="420.5" width="6.6" height="7.5" rx="0" fill="#fff" stroke="#1c1c1c" stroke-width="0.9"/>
<circle cx="201.7" cy="424.3" r="2.2" fill="none" stroke="#1c1c1c" stroke-width="1.1"/>
<rect x="194.4" y="450.3" width="12.2" height="14.6" fill="url(#hatch)" stroke="#1c1c1c" stroke-width="1.0"/>
<rect x="198.4" y="451.5" width="6.6" height="7.2" rx="0" fill="#fff" stroke="#1c1c1c" stroke-width="0.9"/>
<circle cx="201.7" cy="455.2" r="2.2" fill="none" stroke="#1c1c1c" stroke-width="1.1"/>
<rect x="199" y="459.5" width="5.4" height="4.5" rx="0" fill="#fff" stroke="#1c1c1c" stroke-width="1.0"/>
<line x1="202.5" y1="429" x2="202.5" y2="450.3" stroke="#1c1c1c" stroke-width="1.6"/>
<rect x="207" y="421" width="3.6" height="45.5" fill="url(#hatch)" stroke="#1c1c1c" stroke-width="0.9"/>
<rect x="208" y="417.8" width="25.5" height="2.4" fill="#1a1a1a"/>
<rect x="210.3" y="422" width="20.4" height="44.5" fill="#151515"/>
<line x1="213.5" y1="424" x2="213.5" y2="464" stroke="#666" stroke-width="0.45"/>
<line x1="216.8" y1="424" x2="216.8" y2="464" stroke="#666" stroke-width="0.45"/>
<line x1="220.3" y1="424" x2="220.3" y2="464" stroke="#666" stroke-width="0.45"/>
<line x1="223.8" y1="424" x2="223.8" y2="464" stroke="#666" stroke-width="0.45"/>
<line x1="227.3" y1="424" x2="227.3" y2="464" stroke="#666" stroke-width="0.45"/>
<rect x="182" y="465.8" width="84.5" height="3.2" fill="url(#hatch)" stroke="#1c1c1c" stroke-width="0.9"/>
<line x1="262" y1="466" x2="307" y2="466" stroke="#1c1c1c" stroke-width="0.75"/>
<line x1="262" y1="468.8" x2="307" y2="468.8" stroke="#1c1c1c" stroke-width="0.75"/>
<line x1="305" y1="453" x2="305" y2="466" stroke="#1c1c1c" stroke-width="0.75"/>
<polygon points="305,466 303.8,461.5 306.2,461.5" fill="#1c1c1c"/>
<line x1="305" y1="468.8" x2="305" y2="490.5" stroke="#1c1c1c" stroke-width="0.75"/>
<polygon points="305,468.8 306.2,473.3 303.8,473.3" fill="#1c1c1c"/>
<text x="301.5" y="487.5" font-size="8.5" text-anchor="middle" font-style="italic" font-weight="normal" transform="rotate(-90 301.5 487.5)">6</text>
<text x="157.5" y="444.5" font-size="8.8" text-anchor="middle" font-style="italic" font-weight="normal">A-A</text>
<line x1="204.6" y1="469" x2="204.6" y2="510" stroke="#1c1c1c" stroke-width="0.75"/>
<line x1="209.4" y1="469" x2="209.4" y2="494" stroke="#1c1c1c" stroke-width="0.75"/>
<line x1="231.7" y1="469" x2="231.7" y2="494" stroke="#1c1c1c" stroke-width="0.75"/>
<line x1="236.1" y1="469" x2="236.1" y2="510" stroke="#1c1c1c" stroke-width="0.75"/>
<line x1="220.5" y1="470" x2="220.5" y2="516" stroke="#1c1c1c" stroke-width="0.5"/>
<line x1="100" y1="492.8" x2="231.7" y2="492.8" stroke="#1c1c1c" stroke-width="0.75"/>
<polygon points="209.4,492.8 215.4,491.65 215.4,493.95" fill="#1c1c1c"/>
<polygon points="231.7,492.8 225.7,493.95 225.7,491.65" fill="#1c1c1c"/>
<line x1="142" y1="509.6" x2="236.1" y2="509.6" stroke="#1c1c1c" stroke-width="0.75"/>
<polygon points="204.6,509.6 210.6,508.45 210.6,510.75" fill="#1c1c1c"/>
<polygon points="236.1,509.6 230.1,510.75 230.1,508.45" fill="#1c1c1c"/>
<text x="105.5" y="490.3" font-size="9.3" text-anchor="start" font-style="italic" font-weight="normal">Ø36.5</text>
<text x="136.5" y="484" font-size="5.3" text-anchor="start" font-style="italic" font-weight="normal">+0.04</text>
<text x="136.5" y="490.2" font-size="5.3" text-anchor="start" font-style="italic" font-weight="normal">+0.02</text>
<text x="146.8" y="506.6" font-size="8.8" text-anchor="start" font-style="italic" font-weight="normal">Ø50.8</text>
<text x="175.5" y="500.4" font-size="5.3" text-anchor="start" font-style="italic" font-weight="normal">+0.04</text>
<text x="175.5" y="506.7" font-size="5.3" text-anchor="start" font-style="italic" font-weight="normal">+0.02</text>
<line x1="225.6" y1="469.9" x2="258.2" y2="509.1" stroke="#1c1c1c" stroke-width="0.75"/>
<line x1="258.2" y1="509.1" x2="360" y2="509.1" stroke="#1c1c1c" stroke-width="0.75"/>
<text x="272.3" y="506.4" font-size="8.55" text-anchor="start" font-style="italic" font-weight="normal">DIN 5482 A  35x31</text>
<line x1="500" y1="401.2" x2="500" y2="448" stroke="#1c1c1c" stroke-width="0.75"/>
<line x1="592.9" y1="401.2" x2="592.9" y2="448" stroke="#1c1c1c" stroke-width="0.75"/>
<line x1="522.6" y1="413.2" x2="522.6" y2="439" stroke="#1c1c1c" stroke-width="0.75"/>
<line x1="570.4" y1="413.2" x2="570.4" y2="427" stroke="#1c1c1c" stroke-width="0.75"/>
<line x1="500" y1="401.9" x2="592.9" y2="401.9" stroke="#1c1c1c" stroke-width="0.75"/>
<polygon points="500,401.9 506,400.75 506,403.05" fill="#1c1c1c"/>
<polygon points="592.9,401.9 586.9,403.05 586.9,400.75" fill="#1c1c1c"/>
<text x="546.8" y="400.4" font-size="8.9" text-anchor="middle" font-style="italic" font-weight="normal">180</text>
<line x1="500" y1="413.8" x2="522.6" y2="413.8" stroke="#1c1c1c" stroke-width="0.75"/>
<polygon points="500,413.8 506,412.65 506,414.95" fill="#1c1c1c"/>
<polygon points="522.6,413.8 516.6,414.95 516.6,412.65" fill="#1c1c1c"/>
<text x="511.6" y="412.3" font-size="8.9" text-anchor="middle" font-style="italic" font-weight="normal">42</text>
<line x1="570.4" y1="413.8" x2="592.9" y2="413.8" stroke="#1c1c1c" stroke-width="0.75"/>
<polygon points="570.4,413.8 576.4,412.65 576.4,414.95" fill="#1c1c1c"/>
<polygon points="592.9,413.8 586.9,414.95 586.9,412.65" fill="#1c1c1c"/>
<text x="581.6" y="412.3" font-size="8.9" text-anchor="middle" font-style="italic" font-weight="normal">43</text>
<line x1="473" y1="448" x2="500" y2="448" stroke="#1c1c1c" stroke-width="0.75"/>
<line x1="473" y1="472.6" x2="500" y2="472.6" stroke="#1c1c1c" stroke-width="0.75"/>
<line x1="592.9" y1="448" x2="621" y2="448" stroke="#1c1c1c" stroke-width="0.75"/>
<line x1="592.9" y1="472.6" x2="621" y2="472.6" stroke="#1c1c1c" stroke-width="0.75"/>
<line x1="474.3" y1="412.6" x2="474.3" y2="472.6" stroke="#1c1c1c" stroke-width="0.75"/>
<polygon points="474.3,448 475.5,452.5 473.1,452.5" fill="#1c1c1c"/>
<polygon points="474.3,472.6 473.1,468.1 475.5,468.1" fill="#1c1c1c"/>
<text x="472.6" y="426.3" font-size="8.8" text-anchor="middle" font-style="italic" font-weight="normal" transform="rotate(-90 472.6 426.3)">Ø48.5</text>
<line x1="618.9" y1="416" x2="618.9" y2="472.6" stroke="#1c1c1c" stroke-width="0.75"/>
<polygon points="618.9,448 620.1,452.5 617.7,452.5" fill="#1c1c1c"/>
<polygon points="618.9,472.6 617.7,468.1 620.1,468.1" fill="#1c1c1c"/>
<text x="617.1" y="428.5" font-size="8.8" text-anchor="middle" font-style="italic" font-weight="normal" transform="rotate(-90 617.1 428.5)">Ø48.5</text>
<rect x="522" y="426.1" width="49.5" height="21.6" fill="#fff"/>
<rect x="524.8" y="435" width="13.8" height="12.7" fill="url(#hatch)"/>
<rect x="555.6" y="437.5" width="15" height="10.2" fill="url(#hatch)"/>
<rect x="544.7" y="427" width="4" height="20.7" fill="url(#hatch)" stroke="#1c1c1c" stroke-width="0.9"/>
<line x1="524.4" y1="426.1" x2="524.4" y2="447.7" stroke="#1c1c1c" stroke-width="1.7"/>
<line x1="570.6" y1="426.1" x2="570.6" y2="447.7" stroke="#1c1c1c" stroke-width="1.7"/>
<line x1="538.6" y1="426.1" x2="538.6" y2="447.7" stroke="#1c1c1c" stroke-width="1.5"/>
<line x1="555" y1="426.1" x2="555" y2="447.7" stroke="#1c1c1c" stroke-width="1.5"/>
<line x1="541.8" y1="428" x2="541.8" y2="447.7" stroke="#1c1c1c" stroke-width="0.7"/>
<line x1="551.6" y1="428" x2="551.6" y2="447.7" stroke="#1c1c1c" stroke-width="0.7"/>
<line x1="524.4" y1="426.6" x2="535" y2="426.6" stroke="#1c1c1c" stroke-width="1.5"/>
<path d="M524.8,429 L531.5,429 Q535.3,429 535.3,432 Q535.3,435 531.5,435 L524.8,435" fill="#fff" stroke="#1c1c1c" stroke-width="1.4" stroke-linejoin="round" />
<path d="M555.6,426.1 L555.6,437.5 L567,437.5 L567,426.1" fill="none" stroke="#1c1c1c" stroke-width="1.4" stroke-linejoin="round" />
<rect x="529.8" y="439" width="8.6" height="8.2" rx="0" fill="#fff" stroke="#1c1c1c" stroke-width="1.2"/>
<circle cx="534.1" cy="443.2" r="2" fill="none" stroke="#1c1c1c" stroke-width="1.4"/>
<rect x="554.6" y="439" width="8.6" height="8.2" rx="0" fill="#fff" stroke="#1c1c1c" stroke-width="1.2"/>
<circle cx="558.9" cy="443.2" r="2" fill="none" stroke="#1c1c1c" stroke-width="1.4"/>
<rect x="522" y="472.6" width="49.5" height="18.36" fill="#fff"/>
<rect x="524.8" y="472.6" width="13.8" height="10.8" fill="url(#hatch)"/>
<rect x="555.6" y="472.6" width="15" height="8.67" fill="url(#hatch)"/>
<rect x="544.7" y="472.6" width="4" height="17.59" fill="url(#hatch)" stroke="#1c1c1c" stroke-width="0.9"/>
<line x1="524.4" y1="490.96" x2="524.4" y2="472.6" stroke="#1c1c1c" stroke-width="1.7"/>
<line x1="570.6" y1="490.96" x2="570.6" y2="472.6" stroke="#1c1c1c" stroke-width="1.7"/>
<line x1="538.6" y1="490.96" x2="538.6" y2="472.6" stroke="#1c1c1c" stroke-width="1.5"/>
<line x1="555" y1="490.96" x2="555" y2="472.6" stroke="#1c1c1c" stroke-width="1.5"/>
<line x1="541.8" y1="489.35" x2="541.8" y2="472.6" stroke="#1c1c1c" stroke-width="0.7"/>
<line x1="551.6" y1="489.35" x2="551.6" y2="472.6" stroke="#1c1c1c" stroke-width="0.7"/>
<line x1="524.4" y1="490.53" x2="535" y2="490.53" stroke="#1c1c1c" stroke-width="1.5"/>
<path d="M524.8,483.4 L531.5,483.4 Q535.3,483.4 535.3,485.95 Q535.3,488.5 531.5,488.5 L524.8,488.5" fill="#fff" stroke="#1c1c1c" stroke-width="1.4" stroke-linejoin="round" />
<path d="M555.6,490.96 L555.6,481.27 L567,481.27 L567,490.96" fill="none" stroke="#1c1c1c" stroke-width="1.4" stroke-linejoin="round" />
<rect x="529.8" y="473.03" width="8.6" height="6.97" rx="0" fill="#fff" stroke="#1c1c1c" stroke-width="1.2"/>
<circle cx="534.1" cy="476.43" r="2" fill="none" stroke="#1c1c1c" stroke-width="1.4"/>
<rect x="554.6" y="473.03" width="8.6" height="6.97" rx="0" fill="#fff" stroke="#1c1c1c" stroke-width="1.2"/>
<circle cx="558.9" cy="476.43" r="2" fill="none" stroke="#1c1c1c" stroke-width="1.4"/>
<rect x="500" y="448" width="92.9" height="3.6" fill="url(#hatch)" stroke="#1c1c1c" stroke-width="1.1"/>
<rect x="500" y="469" width="92.9" height="3.6" fill="url(#hatch)" stroke="#1c1c1c" stroke-width="1.1"/>
<rect x="500" y="451.6" width="26.3" height="17.4" fill="#fff"/>
<rect x="500" y="452.3" width="26.3" height="2.2" fill="#222"/>
<rect x="500" y="465.8" width="26.3" height="2.2" fill="#222"/>
<rect x="500" y="455.6" width="26.3" height="1.2" fill="#999"/>
<rect x="500" y="463.6" width="26.3" height="1.2" fill="#999"/>
<line x1="500" y1="457.8" x2="526.3" y2="457.8" stroke="#1c1c1c" stroke-width="0.75"/>
<line x1="500" y1="462.8" x2="526.3" y2="462.8" stroke="#1c1c1c" stroke-width="0.75"/>
<rect x="567" y="451.6" width="25.9" height="17.4" fill="#fff"/>
<rect x="567" y="452.3" width="25.9" height="2.2" fill="#222"/>
<rect x="567" y="465.8" width="25.9" height="2.2" fill="#222"/>
<rect x="567" y="455.6" width="25.9" height="1.2" fill="#999"/>
<rect x="567" y="463.6" width="25.9" height="1.2" fill="#999"/>
<line x1="567" y1="457.8" x2="592.9" y2="457.8" stroke="#1c1c1c" stroke-width="0.75"/>
<line x1="567" y1="462.8" x2="592.9" y2="462.8" stroke="#1c1c1c" stroke-width="0.75"/>
<rect x="526.3" y="451.6" width="40.7" height="17.4" rx="0" fill="#fff" stroke="#1c1c1c" stroke-width="1.4"/>
<line x1="465" y1="460.3" x2="625" y2="460.3" stroke="#1c1c1c" stroke-width="0.75"/>
<line x1="479.3" y1="466.7" x2="496" y2="466.7" stroke="#1c1c1c" stroke-width="0.75"/>
<polygon points="500,466.7 495.5,467.9 495.5,465.5" fill="#1c1c1c"/>
<line x1="479.3" y1="466.7" x2="479.3" y2="502" stroke="#1c1c1c" stroke-width="0.75"/>
<line x1="479.3" y1="501.8" x2="607.8" y2="501.8" stroke="#1c1c1c" stroke-width="0.75"/>
<line x1="607.8" y1="463.9" x2="607.8" y2="501.8" stroke="#1c1c1c" stroke-width="0.75"/>
<line x1="598" y1="463.9" x2="607.8" y2="463.9" stroke="#1c1c1c" stroke-width="0.75"/>
<polygon points="593.6,463.9 598.1,462.7 598.1,465.1" fill="#1c1c1c"/>
<text x="517.5" y="498.6" font-size="8.88" text-anchor="start" font-style="italic" font-weight="normal">DIN 9611 A  1" 3/8 Z 6</text>
<line x1="129.1" y1="549.3" x2="129.1" y2="607.5" stroke="#1c1c1c" stroke-width="0.75"/>
<line x1="180.9" y1="549.3" x2="180.9" y2="571" stroke="#1c1c1c" stroke-width="0.75"/>
<line x1="227.5" y1="549.3" x2="227.5" y2="571" stroke="#1c1c1c" stroke-width="0.75"/>
<line x1="276.5" y1="549.3" x2="276.5" y2="607.5" stroke="#1c1c1c" stroke-width="0.75"/>
<line x1="129.1" y1="550.3" x2="276.5" y2="550.3" stroke="#1c1c1c" stroke-width="0.75"/>
<polygon points="129.1,550.3 135.1,549.15 135.1,551.45" fill="#1c1c1c"/>
<polygon points="180.9,550.3 186.9,549.15 186.9,551.45" fill="#1c1c1c"/>
<polygon points="227.5,550.3 233.5,549.15 233.5,551.45" fill="#1c1c1c"/>
<polygon points="180.9,550.3 174.9,551.45 174.9,549.15" fill="#1c1c1c"/>
<polygon points="227.5,550.3 221.5,551.45 221.5,549.15" fill="#1c1c1c"/>
<polygon points="276.5,550.3 270.5,551.45 270.5,549.15" fill="#1c1c1c"/>
<text x="156" y="548.6" font-size="8.6" text-anchor="middle" font-style="italic" font-weight="normal">100</text>
<text x="204.2" y="548.6" font-size="8.6" text-anchor="middle" font-style="italic" font-weight="normal">91</text>
<text x="251.8" y="548.6" font-size="8.6" text-anchor="middle" font-style="italic" font-weight="normal">95</text>
<rect x="181.2" y="571.2" width="45.8" height="83.3" fill="#fff"/>
<path d="M181.2,654.5 L181.2,577.2 L184.7,571.2 L225,571.2 L227,573.7 L227,654.5" fill="none" stroke="#1c1c1c" stroke-width="1.4" stroke-linejoin="round" />
<line x1="204.8" y1="571.2" x2="204.8" y2="654.5" stroke="#1c1c1c" stroke-width="1.2"/>
<line x1="184.1" y1="581" x2="184.1" y2="654" stroke="#1c1c1c" stroke-width="0.75"/>
<line x1="219.9" y1="580" x2="219.9" y2="654" stroke="#1c1c1c" stroke-width="0.75"/>
<line x1="207.3" y1="574" x2="207.3" y2="654" stroke="#1c1c1c" stroke-width="0.5"/>
<rect x="182.3" y="572" width="6" height="6.2" rx="0" fill="#fff" stroke="#1c1c1c" stroke-width="1.2"/>
<rect x="220.8" y="572" width="4.3" height="6.2" rx="0" fill="#fff" stroke="#1c1c1c" stroke-width="1.2"/>
<rect x="191" y="565" width="12.6" height="6.4" rx="0" fill="#fff" stroke="#1c1c1c" stroke-width="1.4"/>
<rect x="192.6" y="566.1" width="9.4" height="2.4" rx="1" fill="none" stroke="#1c1c1c" stroke-width="0.8"/>
<rect x="191.5" y="568.8" width="11.6" height="2.2" fill="#3a3a3a"/>
<line x1="197.6" y1="599.6" x2="204.8" y2="599.6" stroke="#1c1c1c" stroke-width="1.3"/>
<circle cx="197.6" cy="606.4" r="6.8" fill="#fff" stroke="#1c1c1c" stroke-width="1.9"/>
<circle cx="197.6" cy="606.4" r="5" fill="none" stroke="#1c1c1c" stroke-width="0.8"/>
<rect x="184.1" y="611.4" width="4.9" height="11" rx="0" fill="#fff" stroke="#1c1c1c" stroke-width="0.9"/>
<rect x="221.3" y="612.8" width="3.6" height="7.5" rx="0" fill="#fff" stroke="#1c1c1c" stroke-width="0.9"/>
<rect x="177.8" y="595.6" width="3" height="42" rx="0" fill="#fff" stroke="#1c1c1c" stroke-width="1.0"/>
<rect x="227" y="596" width="2.6" height="42" rx="0" fill="#fff" stroke="#1c1c1c" stroke-width="1.0"/>
<line x1="183" y1="651" x2="188" y2="651" stroke="#1c1c1c" stroke-width="0.9"/>
<line x1="188" y1="651" x2="188" y2="655" stroke="#1c1c1c" stroke-width="0.9"/>
<line x1="220" y1="651" x2="225.5" y2="651" stroke="#1c1c1c" stroke-width="0.9"/>
<line x1="220" y1="651" x2="220" y2="655" stroke="#1c1c1c" stroke-width="0.9"/>
<g transform="translate(177.8,616.4) scale(-1,1)">
<path d="M0,-13.8 Q0.5,-8.8 5,-8.8 L25.32,-8.8 L26.32,-7.2 L28.71,-7.2 L29.71,-8.8 L45.7,-8.8 Q48.7,-8.8 48.7,-5.8 L48.7,5.8 Q48.7,8.8 45.7,8.8 L29.71,8.8 L28.71,7.2 L26.32,7.2 L25.32,8.8 L5,8.8 Q0.5,8.8 0,13.8" fill="#fff" stroke="#1c1c1c" stroke-width="1.2" stroke-linejoin="round" />
<line x1="5" y1="-7.8" x2="46.7" y2="-7.8" stroke="#1c1c1c" stroke-width="0.9"/>
<line x1="5" y1="7.8" x2="46.7" y2="7.8" stroke="#1c1c1c" stroke-width="0.9"/>
<rect x="5.5" y="-2.64" width="42.6" height="5.28" rx="2.2" fill="none" stroke="#1c1c1c" stroke-width="1.3"/>
<line x1="25.82" y1="-7.2" x2="25.82" y2="7.2" stroke="#1c1c1c" stroke-width="0.75"/>
<line x1="29.21" y1="-7.2" x2="29.21" y2="7.2" stroke="#1c1c1c" stroke-width="0.75"/>
<line x1="4.25" y1="-7.3" x2="4.25" y2="7.3" stroke="#1c1c1c" stroke-width="0.5"/>
</g>
<g transform="translate(229.6,616.4) scale(1,1)">
<path d="M0,-13.8 Q0.5,-8.8 5,-8.8 L29.08,-8.8 L30.08,-7.2 L32.3,-7.2 L33.3,-8.8 L43.9,-8.8 Q46.9,-8.8 46.9,-5.8 L46.9,5.8 Q46.9,8.8 43.9,8.8 L33.3,8.8 L32.3,7.2 L30.08,7.2 L29.08,8.8 L5,8.8 Q0.5,8.8 0,13.8" fill="#fff" stroke="#1c1c1c" stroke-width="1.2" stroke-linejoin="round" />
<line x1="5" y1="-7.8" x2="44.9" y2="-7.8" stroke="#1c1c1c" stroke-width="0.9"/>
<line x1="5" y1="7.8" x2="44.9" y2="7.8" stroke="#1c1c1c" stroke-width="0.9"/>
<rect x="5.5" y="-2.64" width="40.8" height="5.28" rx="2.2" fill="none" stroke="#1c1c1c" stroke-width="1.3"/>
<line x1="29.58" y1="-7.2" x2="29.58" y2="7.2" stroke="#1c1c1c" stroke-width="0.75"/>
<line x1="32.8" y1="-7.2" x2="32.8" y2="7.2" stroke="#1c1c1c" stroke-width="0.75"/>
<line x1="4.25" y1="-7.3" x2="4.25" y2="7.3" stroke="#1c1c1c" stroke-width="0.5"/>
</g>
<line x1="118" y1="616.4" x2="286" y2="616.4" stroke="#1c1c1c" stroke-width="0.5" stroke-dasharray="16 2.5 3 2.5"/>
<line x1="117.9" y1="616.4" x2="124.5" y2="616.4" stroke="#1c1c1c" stroke-width="0.75"/>
<polygon points="129,616.4 124.5,617.6 124.5,615.2" fill="#1c1c1c"/>
<line x1="117.9" y1="616.4" x2="117.9" y2="674" stroke="#1c1c1c" stroke-width="0.75"/>
<line x1="117.9" y1="674" x2="272.2" y2="674" stroke="#1c1c1c" stroke-width="0.75"/>
<line x1="272.2" y1="627" x2="272.2" y2="674" stroke="#1c1c1c" stroke-width="0.75"/>
<polygon points="272.2,625.6 273.4,630.1 271,630.1" fill="#1c1c1c"/>
<text x="147.1" y="670.6" font-size="8.75" text-anchor="start" font-style="italic" font-weight="normal">ASAE 1" 3/8 Z 6  DIN 9611</text>
<line x1="307.5" y1="552.6" x2="307.5" y2="601" stroke="#1c1c1c" stroke-width="0.75"/>
<line x1="335.8" y1="552.6" x2="335.8" y2="571.5" stroke="#1c1c1c" stroke-width="0.75"/>
<line x1="307.5" y1="553.6" x2="335.8" y2="553.6" stroke="#1c1c1c" stroke-width="0.75"/>
<polygon points="307.5,553.6 313.5,552.45 313.5,554.75" fill="#1c1c1c"/>
<polygon points="335.8,553.6 329.8,554.75 329.8,552.45" fill="#1c1c1c"/>
<text x="322.3" y="552.1" font-size="8.9" text-anchor="middle" font-style="italic" font-weight="normal">55</text>
<rect x="336.2" y="572" width="45.3" height="73" fill="#fff"/>
<path d="M336.2,645 L336.2,578 L339.7,572 L379.5,572 L381.5,574.5 L381.5,645" fill="none" stroke="#1c1c1c" stroke-width="1.4" stroke-linejoin="round" />
<line x1="359.8" y1="572" x2="359.8" y2="645" stroke="#1c1c1c" stroke-width="1.2"/>
<line x1="339" y1="582" x2="339" y2="645" stroke="#1c1c1c" stroke-width="0.75"/>
<line x1="377" y1="580" x2="377" y2="645" stroke="#1c1c1c" stroke-width="0.75"/>
<rect x="337.6" y="573" width="6" height="6.2" rx="0" fill="#fff" stroke="#1c1c1c" stroke-width="1.2"/>
<rect x="376.2" y="573" width="4.3" height="6.2" rx="0" fill="#fff" stroke="#1c1c1c" stroke-width="1.2"/>
<rect x="346.3" y="565.5" width="12.6" height="6.6" rx="0" fill="#fff" stroke="#1c1c1c" stroke-width="1.4"/>
<rect x="347.9" y="566.6" width="9.4" height="2.4" rx="1" fill="none" stroke="#1c1c1c" stroke-width="0.8"/>
<rect x="346.8" y="569.4" width="11.6" height="2.4" fill="#3a3a3a"/>
<line x1="352.9" y1="601.4" x2="359.8" y2="601.4" stroke="#1c1c1c" stroke-width="1.3"/>
<circle cx="352.9" cy="608" r="6.4" fill="#fff" stroke="#1c1c1c" stroke-width="1.9"/>
<circle cx="352.9" cy="608" r="4.7" fill="none" stroke="#1c1c1c" stroke-width="0.8"/>
<rect x="339.2" y="613" width="4.5" height="10" rx="0" fill="#fff" stroke="#1c1c1c" stroke-width="0.9"/>
<rect x="376" y="613.5" width="4" height="8.5" rx="0" fill="#fff" stroke="#1c1c1c" stroke-width="0.9"/>
<rect x="333.2" y="596" width="3" height="48.5" rx="0" fill="#fff" stroke="#1c1c1c" stroke-width="1.0"/>
<rect x="380.8" y="596" width="2.4" height="48.5" rx="0" fill="#fff" stroke="#1c1c1c" stroke-width="1.0"/>
<g transform="translate(383.2,618.6) scale(1,1)">
<path d="M0,-14.5 Q0.5,-9 5.5,-9 L27.94,-9 L28.94,-7.4 L31.51,-7.4 L32.51,-9 L47.8,-9 Q50.8,-9 50.8,-6 L50.8,6 Q50.8,9 47.8,9 L32.51,9 L31.51,7.4 L28.94,7.4 L27.94,9 L5.5,9 Q0.5,9 0,14.5" fill="#fff" stroke="#1c1c1c" stroke-width="1.2" stroke-linejoin="round" />
<line x1="5.5" y1="-8" x2="48.8" y2="-8" stroke="#1c1c1c" stroke-width="0.9"/>
<line x1="5.5" y1="8" x2="48.8" y2="8" stroke="#1c1c1c" stroke-width="0.9"/>
<rect x="6" y="-2.7" width="44.2" height="5.4" rx="2.2" fill="none" stroke="#1c1c1c" stroke-width="1.3"/>
<line x1="28.44" y1="-7.4" x2="28.44" y2="7.4" stroke="#1c1c1c" stroke-width="0.75"/>
<line x1="32.01" y1="-7.4" x2="32.01" y2="7.4" stroke="#1c1c1c" stroke-width="0.75"/>
<line x1="4.67" y1="-7.5" x2="4.67" y2="7.5" stroke="#1c1c1c" stroke-width="0.5"/>
</g>
<rect x="325.2" y="605" width="8" height="25" rx="0" fill="#fff" stroke="#1c1c1c" stroke-width="1.0"/>
<rect x="314.4" y="600.3" width="11" height="35" rx="0" fill="#fff" stroke="#1c1c1c" stroke-width="1.1"/>
<line x1="318.8" y1="600.3" x2="318.8" y2="635.3" stroke="#1c1c1c" stroke-width="1.3"/>
<path d="M308.5,601.5 L314.4,601.5 L314.4,634.5 L308.5,634.5 Q307.3,634.5 307.3,632 L307.3,604 Q307.3,601.5 308.5,601.5 Z" fill="#1e1e1e" stroke="#1c1c1c" stroke-width="1.0" stroke-linejoin="round" />
<line x1="309.8" y1="603" x2="309.8" y2="633" stroke="#555" stroke-width="0.5"/>
<line x1="312.2" y1="603" x2="312.2" y2="633" stroke="#555" stroke-width="0.5"/>
<rect x="308.3" y="600.3" width="2" height="1.6" rx="0" fill="#1e1e1e" stroke="#1c1c1c" stroke-width="0.6"/>
<rect x="308.3" y="634.2" width="2" height="1.6" rx="0" fill="#1e1e1e" stroke="#1c1c1c" stroke-width="0.6"/>
<line x1="286" y1="618.6" x2="446" y2="618.6" stroke="#1c1c1c" stroke-width="0.5" stroke-dasharray="16 2.5 3 2.5"/>
<line x1="289" y1="618.6" x2="303" y2="618.6" stroke="#1c1c1c" stroke-width="0.75"/>
<polygon points="307.5,618.6 303,619.8 303,617.4" fill="#1c1c1c"/>
<line x1="289" y1="618.6" x2="289" y2="658.2" stroke="#1c1c1c" stroke-width="0.75"/>
<line x1="289" y1="658.2" x2="430.8" y2="658.2" stroke="#1c1c1c" stroke-width="0.75"/>
<text x="318.3" y="656" font-size="8.75" text-anchor="start" font-style="italic" font-weight="normal">ASAE 1" 3/8 Z 6  DIN 9611 A</text>
<line x1="440.5" y1="618.6" x2="440.5" y2="671.7" stroke="#1c1c1c" stroke-width="0.75"/>
<line x1="438" y1="618.6" x2="440.5" y2="618.6" stroke="#1c1c1c" stroke-width="0.75"/>
<polygon points="434.2,618.6 438.7,617.4 438.7,619.8" fill="#1c1c1c"/>
<line x1="329.5" y1="671.7" x2="440.5" y2="671.7" stroke="#1c1c1c" stroke-width="0.75"/>
<text x="330.6" y="670.4" font-size="8.75" text-anchor="start" font-style="italic" font-weight="normal">ASAE 1" 3/8 Z 6  DIN 9611</text>
<path d="M469.5,575 Q469.5,568.6 475.5,568.6 L513,568.6 Q517,568.6 517,573 L517,654 L469.5,654 Z" fill="#fff" stroke="#1c1c1c" stroke-width="1.4" stroke-linejoin="round" />
<rect x="480.8" y="562.5" width="12.5" height="7.5" rx="0" fill="#fff" stroke="#1c1c1c" stroke-width="1.2"/>
<rect x="470.3" y="569.5" width="13" height="26" fill="url(#hatch2)" stroke="#1c1c1c" stroke-width="0.9"/>
<rect x="471.4" y="583.6" width="9.3" height="5.4" rx="1.5" fill="#fff" stroke="#1c1c1c" stroke-width="1.0"/>
<rect x="484" y="571.8" width="16.7" height="27" fill="url(#hatch2)" stroke="#1c1c1c" stroke-width="0.9"/>
<rect x="486.4" y="580.5" width="3.6" height="16.3" rx="0" fill="#fff" stroke="#1c1c1c" stroke-width="0.9"/>
<rect x="495" y="580.5" width="4.5" height="16.3" rx="0" fill="#fff" stroke="#1c1c1c" stroke-width="0.9"/>
<rect x="501.4" y="572.4" width="13.1" height="19.4" rx="0" fill="#fff" stroke="#1c1c1c" stroke-width="1.0"/>
<rect x="476.5" y="595" width="6" height="6" rx="0" fill="#fff" stroke="#1c1c1c" stroke-width="1.0"/>
<circle cx="479.5" cy="598" r="1.8" fill="none" stroke="#1c1c1c" stroke-width="1.0"/>
<rect x="502" y="595" width="6" height="6" rx="0" fill="#fff" stroke="#1c1c1c" stroke-width="1.0"/>
<circle cx="505" cy="598" r="1.8" fill="none" stroke="#1c1c1c" stroke-width="1.0"/>
<rect x="469.5" y="601" width="47.5" height="5.8" fill="url(#hatch)" stroke="#1c1c1c" stroke-width="1.1"/>
<rect x="469.5" y="621" width="47.5" height="5" fill="url(#hatch)" stroke="#1c1c1c" stroke-width="1.1"/>
<rect x="470.3" y="626" width="31" height="27.3" fill="url(#hatch2)" stroke="#1c1c1c" stroke-width="0.9"/>
<line x1="503" y1="652" x2="515" y2="638" stroke="#1c1c1c" stroke-width="0.6"/>
<line x1="507" y1="652" x2="515.5" y2="642.5" stroke="#1c1c1c" stroke-width="0.6"/>
<rect x="501.4" y="628" width="14" height="10" rx="0" fill="#fff" stroke="#1c1c1c" stroke-width="0.9"/>
<rect x="477" y="628" width="6" height="6" rx="0" fill="#fff" stroke="#1c1c1c" stroke-width="1.0"/>
<circle cx="480" cy="631" r="1.8" fill="none" stroke="#1c1c1c" stroke-width="1.0"/>
<rect x="477.2" y="648" width="5.6" height="5.4" rx="0" fill="#fff" stroke="#1c1c1c" stroke-width="1.0"/>
<circle cx="480" cy="650.7" r="1.5" fill="none" stroke="#1c1c1c" stroke-width="0.9"/>
<rect x="502" y="628" width="6" height="6" rx="0" fill="#fff" stroke="#1c1c1c" stroke-width="1.0"/>
<circle cx="505" cy="631" r="1.8" fill="none" stroke="#1c1c1c" stroke-width="1.0"/>
<rect x="502.2" y="648" width="5.6" height="5.4" rx="0" fill="#fff" stroke="#1c1c1c" stroke-width="1.0"/>
<circle cx="505" cy="650.7" r="1.5" fill="none" stroke="#1c1c1c" stroke-width="0.9"/>
<rect x="487" y="633" width="4.2" height="15" rx="0" fill="#fff" stroke="#1c1c1c" stroke-width="0.9"/>
<rect x="495.7" y="633" width="4" height="15" rx="0" fill="#fff" stroke="#1c1c1c" stroke-width="0.9"/>
<rect x="471.4" y="640.5" width="8.6" height="5" rx="1.5" fill="#fff" stroke="#1c1c1c" stroke-width="1.0"/>
<rect x="469.5" y="606.8" width="47.5" height="14.2" fill="#fff"/>
<line x1="469.5" y1="608" x2="517" y2="608" stroke="#222" stroke-width="1.3"/>
<line x1="469.5" y1="611" x2="517" y2="611" stroke="#1c1c1c" stroke-width="0.6"/>
<line x1="469.5" y1="614.3" x2="517" y2="614.3" stroke="#1c1c1c" stroke-width="0.5"/>
<line x1="469.5" y1="617.6" x2="517" y2="617.6" stroke="#1c1c1c" stroke-width="0.6"/>
<line x1="469.5" y1="620" x2="517" y2="620" stroke="#222" stroke-width="1.3"/>
<rect x="485" y="606.4" width="14.5" height="16.6" rx="0" fill="#fff" stroke="#1c1c1c" stroke-width="1.2"/>
<path d="M469.5,577 Q469.5,568.6 477.5,568.6 L512,568.6 Q517,568.6 517,574 L517,654 L469.5,654 Z" fill="none" stroke="#1c1c1c" stroke-width="1.25" stroke-linejoin="round" />
<line x1="468.6" y1="551" x2="468.6" y2="600" stroke="#1c1c1c" stroke-width="0.75"/>
<line x1="518" y1="551" x2="518" y2="600" stroke="#1c1c1c" stroke-width="0.75"/>
<line x1="468.6" y1="552" x2="518" y2="552" stroke="#1c1c1c" stroke-width="0.75"/>
<polygon points="468.6,552 474.6,550.85 474.6,553.15" fill="#1c1c1c"/>
<polygon points="518,552 512,553.15 512,550.85" fill="#1c1c1c"/>
<text x="493" y="550.5" font-size="8.9" text-anchor="middle" font-style="italic" font-weight="normal">96</text>
<line x1="455" y1="614.3" x2="530" y2="614.3" stroke="#1c1c1c" stroke-width="0.5"/>
<line x1="451" y1="614.3" x2="464" y2="614.3" stroke="#1c1c1c" stroke-width="0.75"/>
<polygon points="468.6,614.3 464.1,615.5 464.1,613.1" fill="#1c1c1c"/>
<line x1="451" y1="614.3" x2="451" y2="676" stroke="#1c1c1c" stroke-width="0.75"/>
<line x1="451" y1="676" x2="554" y2="676" stroke="#1c1c1c" stroke-width="0.75"/>
<line x1="554" y1="614.3" x2="554" y2="676" stroke="#1c1c1c" stroke-width="0.75"/>
<line x1="522" y1="614.3" x2="554" y2="614.3" stroke="#1c1c1c" stroke-width="0.75"/>
<polygon points="518,614.3 522.5,613.1 522.5,615.5" fill="#1c1c1c"/>
<text x="460" y="666" font-size="8.75" text-anchor="start" font-style="italic" font-weight="normal">ASAE 1" 3/8 Z 6</text>
<text x="460" y="673.6" font-size="8.75" text-anchor="start" font-style="italic" font-weight="normal">DIN 9611 A</text>
<path d="M579.5,577 Q579.5,570.6 585.5,570.6 L623,570.6 Q627,570.6 627,575 L627,656 L579.5,656 Z" fill="#fff" stroke="#1c1c1c" stroke-width="1.4" stroke-linejoin="round" />
<rect x="590.8" y="564.5" width="12.5" height="7.5" rx="0" fill="#fff" stroke="#1c1c1c" stroke-width="1.2"/>
<rect x="580.3" y="571.5" width="13" height="26" fill="url(#hatch2)" stroke="#1c1c1c" stroke-width="0.9"/>
<rect x="581.4" y="585.6" width="9.3" height="5.4" rx="1.5" fill="#fff" stroke="#1c1c1c" stroke-width="1.0"/>
<rect x="594" y="573.8" width="16.7" height="27" fill="url(#hatch2)" stroke="#1c1c1c" stroke-width="0.9"/>
<rect x="596.4" y="582.5" width="3.6" height="16.3" rx="0" fill="#fff" stroke="#1c1c1c" stroke-width="0.9"/>
<rect x="605" y="582.5" width="4.5" height="16.3" rx="0" fill="#fff" stroke="#1c1c1c" stroke-width="0.9"/>
<rect x="611.4" y="574.4" width="13.1" height="19.4" rx="0" fill="#fff" stroke="#1c1c1c" stroke-width="1.0"/>
<rect x="586.5" y="597" width="6" height="6" rx="0" fill="#fff" stroke="#1c1c1c" stroke-width="1.0"/>
<circle cx="589.5" cy="600" r="1.8" fill="none" stroke="#1c1c1c" stroke-width="1.0"/>
<rect x="612" y="597" width="6" height="6" rx="0" fill="#fff" stroke="#1c1c1c" stroke-width="1.0"/>
<circle cx="615" cy="600" r="1.8" fill="none" stroke="#1c1c1c" stroke-width="1.0"/>
<rect x="579.5" y="603" width="47.5" height="5.8" fill="url(#hatch)" stroke="#1c1c1c" stroke-width="1.1"/>
<rect x="579.5" y="623" width="47.5" height="5" fill="url(#hatch)" stroke="#1c1c1c" stroke-width="1.1"/>
<rect x="580.3" y="628" width="31" height="27.3" fill="url(#hatch2)" stroke="#1c1c1c" stroke-width="0.9"/>
<line x1="613" y1="654" x2="625" y2="640" stroke="#1c1c1c" stroke-width="0.6"/>
<line x1="617" y1="654" x2="625.5" y2="644.5" stroke="#1c1c1c" stroke-width="0.6"/>
<rect x="611.4" y="630" width="14" height="10" rx="0" fill="#fff" stroke="#1c1c1c" stroke-width="0.9"/>
<rect x="587" y="630" width="6" height="6" rx="0" fill="#fff" stroke="#1c1c1c" stroke-width="1.0"/>
<circle cx="590" cy="633" r="1.8" fill="none" stroke="#1c1c1c" stroke-width="1.0"/>
<rect x="587.2" y="650" width="5.6" height="5.4" rx="0" fill="#fff" stroke="#1c1c1c" stroke-width="1.0"/>
<circle cx="590" cy="652.7" r="1.5" fill="none" stroke="#1c1c1c" stroke-width="0.9"/>
<rect x="612" y="630" width="6" height="6" rx="0" fill="#fff" stroke="#1c1c1c" stroke-width="1.0"/>
<circle cx="615" cy="633" r="1.8" fill="none" stroke="#1c1c1c" stroke-width="1.0"/>
<rect x="612.2" y="650" width="5.6" height="5.4" rx="0" fill="#fff" stroke="#1c1c1c" stroke-width="1.0"/>
<circle cx="615" cy="652.7" r="1.5" fill="none" stroke="#1c1c1c" stroke-width="0.9"/>
<rect x="597" y="635" width="4.2" height="15" rx="0" fill="#fff" stroke="#1c1c1c" stroke-width="0.9"/>
<rect x="605.7" y="635" width="4" height="15" rx="0" fill="#fff" stroke="#1c1c1c" stroke-width="0.9"/>
<rect x="581.4" y="642.5" width="8.6" height="5" rx="1.5" fill="#fff" stroke="#1c1c1c" stroke-width="1.0"/>
<rect x="579.5" y="608.8" width="36" height="14.2" fill="#fff"/>
<line x1="579.5" y1="610" x2="615.8" y2="610" stroke="#222" stroke-width="1.3"/>
<line x1="579.5" y1="613" x2="615.8" y2="613" stroke="#1c1c1c" stroke-width="0.6"/>
<line x1="579.5" y1="616.3" x2="615.8" y2="616.3" stroke="#1c1c1c" stroke-width="0.5"/>
<line x1="579.5" y1="619.6" x2="615.8" y2="619.6" stroke="#1c1c1c" stroke-width="0.6"/>
<line x1="579.5" y1="622" x2="615.8" y2="622" stroke="#222" stroke-width="1.3"/>
<path d="M579.5,579 Q579.5,570.6 587.5,570.6 L622,570.6 Q627,570.6 627,576 L627,656 L579.5,656 Z" fill="none" stroke="#1c1c1c" stroke-width="1.25" stroke-linejoin="round" />
<path d="M615.3,606.5 L630,606.5 L632,607.8 L673,607.8 Q676.5,607.8 676.5,611 L676.5,621 Q676.5,624.4 673,624.4 L632,624.4 L630,626 L615.3,626 Z" fill="url(#hatch2)" fill-rule="evenodd" stroke="#1c1c1c" stroke-width="1.1"/>
<rect x="615.8" y="606.5" width="3.6" height="19" rx="0" fill="#fff" stroke="#1c1c1c" stroke-width="1.0"/>
<circle cx="664" cy="616.4" r="1.9" fill="#fff" stroke="#1c1c1c" stroke-width="1.0"/>
<line x1="627" y1="610" x2="627" y2="622" stroke="#1c1c1c" stroke-width="0.4"/>
<line x1="570" y1="616.3" x2="690" y2="616.3" stroke="#1c1c1c" stroke-width="0.5"/>
<line x1="627.6" y1="565.2" x2="627.6" y2="584" stroke="#1c1c1c" stroke-width="0.75"/>
<line x1="676.5" y1="565.2" x2="676.5" y2="612" stroke="#1c1c1c" stroke-width="0.75"/>
<line x1="627.6" y1="566.2" x2="676.5" y2="566.2" stroke="#1c1c1c" stroke-width="0.75"/>
<polygon points="627.6,566.2 633.6,565.05 633.6,567.35" fill="#1c1c1c"/>
<polygon points="676.5,566.2 670.5,567.35 670.5,565.05" fill="#1c1c1c"/>
<text x="652" y="564.7" font-size="8.9" text-anchor="middle" font-style="italic" font-weight="normal">97</text>
<text x="590" y="541" font-size="8.75" text-anchor="start" font-style="italic" font-weight="normal">ASAE 1" 3/8 Z 6</text>
<text x="590" y="549" font-size="8.75" text-anchor="start" font-style="italic" font-weight="normal">DIN 9611</text>
<line x1="590" y1="551" x2="685" y2="551" stroke="#1c1c1c" stroke-width="0.75"/>
<line x1="685" y1="551" x2="685" y2="616.4" stroke="#1c1c1c" stroke-width="0.75"/>
<line x1="681" y1="616.4" x2="685" y2="616.4" stroke="#1c1c1c" stroke-width="0.75"/>
<polygon points="677,616.4 681.5,615.2 681.5,617.6" fill="#1c1c1c"/>
<line x1="570" y1="616.4" x2="575" y2="616.4" stroke="#1c1c1c" stroke-width="0.75"/>
<polygon points="579.5,616.4 575,617.6 575,615.2" fill="#1c1c1c"/>
<line x1="570" y1="616.4" x2="570" y2="674" stroke="#1c1c1c" stroke-width="0.75"/>
<line x1="570" y1="674" x2="668" y2="674" stroke="#1c1c1c" stroke-width="0.75"/>
<text x="582" y="664" font-size="8.75" text-anchor="start" font-style="italic" font-weight="normal">ASAE 1" 3/8 Z 6</text>
<text x="582" y="672" font-size="8.75" text-anchor="start" font-style="italic" font-weight="normal">DIN 9611A</text>
<line x1="115" y1="231.3" x2="300" y2="231.3" stroke="#1c1c1c" stroke-width="0.75"/>
<line x1="300" y1="231.3" x2="700" y2="231.3" stroke="#1c1c1c" stroke-width="0.7" stroke-dasharray="18 3 3 3"/>
<line x1="220" y1="226" x2="220" y2="397" stroke="#1c1c1c" stroke-width="0.6"/>
<line x1="316" y1="293.9" x2="650" y2="293.9" stroke="#1c1c1c" stroke-width="0.7" stroke-dasharray="18 3 3 3"/>
<line x1="612.9" y1="155.7" x2="612.9" y2="363" stroke="#1c1c1c" stroke-width="0.6"/>
<line x1="578.9" y1="155.7" x2="578.9" y2="227" stroke="#1c1c1c" stroke-width="0.75"/>
<line x1="646.4" y1="155.7" x2="646.4" y2="227" stroke="#1c1c1c" stroke-width="0.75"/>
<line x1="568.3" y1="140.8" x2="568.3" y2="230" stroke="#1c1c1c" stroke-width="0.75"/>
<line x1="657" y1="140.8" x2="657" y2="230" stroke="#1c1c1c" stroke-width="0.75"/>
</svg></body></html>
